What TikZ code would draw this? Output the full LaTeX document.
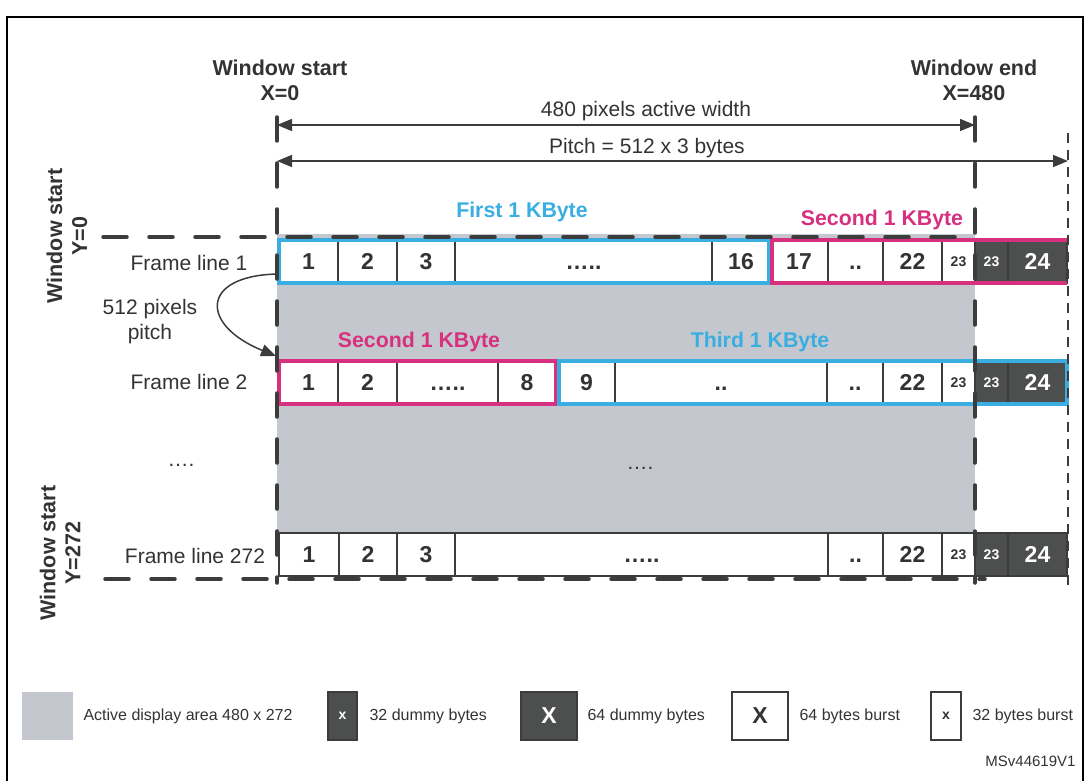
\documentclass[tikz,border=0pt]{standalone}
\usepackage{fontspec}
\setmainfont{Liberation Sans}
\usetikzlibrary{calc, positioning}
\usetikzlibrary{arrows.meta}

\definecolor{linegray}{HTML}{3C3C3C}
\definecolor{txtgray}{HTML}{333333}
\definecolor{areagray}{HTML}{C4C8CE}
\definecolor{dummygray}{HTML}{4D4F4E}
\definecolor{kbblue}{HTML}{3AAEE0}
\definecolor{kbmagenta}{HTML}{D6307F}

\tikzset{
  cell/.style={draw=linegray, line width=1.2pt, fill=white, text=txtgray, inner sep=0pt, outer sep=0pt,
    minimum height=43pt, anchor=north west, text height=16.5pt, text depth=0pt,
    font=\bfseries\fontsize{23}{23}\selectfont},
  smallcell/.style={cell, text height=10pt, font=\bfseries\fontsize{14}{14}\selectfont},
  dummy/.style={cell, fill=dummygray, text=white},
  smalldummy/.style={smallcell, fill=dummygray, text=white},
  winline/.style={linegray, line width=3.5pt, line cap=round, dash pattern=on 24pt off 22pt},
  pitchline/.style={linegray, line width=1.8pt, dash pattern=on 10pt off 7pt},
  dimarrow/.style={linegray, line width=1.5pt, {Triangle[length=15pt,width=12pt]}-{Triangle[length=15pt,width=12pt]}},
  kbox/.style={line width=3.5pt},
  lbl/.style={text=txtgray, font=\fontsize{21}{25}\selectfont, align=center},
  boldlbl/.style={lbl, font=\bfseries\fontsize{21.5}{25}\selectfont},
  kblbl/.style={font=\bfseries\fontsize{21.3}{24}\selectfont},
  legtext/.style={text=txtgray, anchor=west, font=\fontsize{16}{16}\selectfont},
  legbox/.style={draw=linegray, line width=1.2pt, inner sep=0pt, minimum height=48pt},
}

\begin{document}
\begin{tikzpicture}[x=1pt, y=-1pt]
\useasboundingbox (0,0) rectangle (1088,781);
\draw[black, line width=2pt] (7,781) -- (7,17) -- (1083,17) -- (1083,781);

\coordinate (XstartTop) at (277,117);
\coordinate (XstartBot) at (277,583);
\coordinate (XendTop) at (975,117);
\coordinate (XendBot) at (975,583);
\coordinate (PitchTop) at (1068,133);
\coordinate (PitchBot) at (1068,588);
\coordinate (YstartL) at (103,237);
\coordinate (YstartR) at (975,237);
\coordinate (YendL) at (105,579);
\coordinate (YendR) at (985,579);
\coordinate (pitchA) at (277,274);
\coordinate (pitchB) at (276,356);

\fill[areagray] (277,234) rectangle (975,533);

\foreach \xa/\xb/\t/\s [count=\i] in {279/338/1/cell, 338/397/2/cell, 397/455/3/cell, 455/712/…../cell,
    712/770/16/cell, 770/828/17/cell, 828/883/../cell, 883/942/22/cell, 942/975/23/smallcell,
    975/1008/23/smalldummy, 1008/1067/24/dummy}
  \node[\s, minimum width={(\xb-\xa)*1pt}] (ra\i) at (\xa,240) {\t};
\foreach \xa/\xb/\t/\s [count=\i] in {279/338/1/cell, 338/397/2/cell, 397/498/…../cell, 498/556/8/cell,
    558/615/9/cell, 615/827/../cell, 827/883/../cell, 883/942/22/cell, 942/975/23/smallcell,
    975/1008/23/smalldummy, 1008/1067/24/dummy}
  \node[\s, minimum width={(\xb-\xa)*1pt}] (rb\i) at (\xa,361) {\t};
\foreach \xa/\xb/\t/\s [count=\i] in {279/339/1/cell, 339/397/2/cell, 397/455/3/cell, 455/828/…../cell,
    828/883/../cell, 883/942/22/cell, 942/975/23/smallcell,
    975/1008/23/smalldummy, 1008/1067/24/dummy}
  \node[\s, minimum width={(\xb-\xa)*1pt}] (rc\i) at (\xa,533) {\t};

\draw[kbox, kbblue] (279,240) rectangle (769,283);
\draw[kbox, kbmagenta] (1067,240) -- (772,240) -- (772,283) -- (1067,283);
\draw[kbox, kbmagenta] (279,361) rectangle (556,404);
\draw[kbox, kbblue] (559,361) rectangle (1067,404);

\draw[winline] (XstartTop) -- (XstartBot);
\draw[winline] (XendTop) -- (XendBot);
\draw[winline] (YstartL) -- (YstartR);
\draw[winline] (YendL) -- (YendR);
\draw[pitchline] (PitchTop) -- (PitchBot);

\draw[dimarrow] (277,125) -- (975,125);
\draw[dimarrow] (277,161) -- (1068,161);
\draw[linegray, line width=1.5pt, -{Triangle[length=15pt,width=12pt]}]
    (pitchA) .. controls (200,276) and (200,325) .. (pitchB);

\node[lbl] (activeW) at (646,111) {480 pixels active width};
\node[lbl] (pitchW) at (647,148) {Pitch = 512 x 3 bytes};
\node[boldlbl] (winX0) at (280,80) {Window start\\X=0};
\node[boldlbl] (winX480) at (974,80) {Window end\\X=480};
\node[boldlbl, rotate=90] (winY0) at (67,236) {Window start\\Y=0};
\node[boldlbl, rotate=90] (winY272) at (60,553) {Window start\\Y=272};
\node[kblbl, text=kbblue] (kbFirst) at (522,212) {First 1 KByte};
\node[kblbl, text=kbmagenta] (kbSecondA) at (882,220) {Second 1 KByte};
\node[kblbl, text=kbmagenta] (kbSecondB) at (419,342) {Second 1 KByte};
\node[kblbl, text=kbblue] (kbThird) at (760,342) {Third 1 KByte};
\node[lbl] (line1) at (189,263) {Frame line 1};
\node[lbl] (pitchTxt) at (150,322) {512 pixels\\pitch};
\node[lbl] (line2) at (189,382) {Frame line 2};
\node[lbl] (dotsL) at (181,465) {….};
\node[lbl] (dotsM) at (640,468) {….};
\node[lbl] (line272) at (195,556) {Frame line 272};

\node[legbox, draw=none, fill=areagray, minimum width=51pt] (lgArea) at (47.5,716) {};
\node[legtext] (lgAreaT) at (80,716) {Active display area 480 x 272};
\node[legbox, fill=dummygray, minimum width=29pt, text=white, font=\bfseries\fontsize{14}{14}\selectfont] (lgDx) at (342.5,716) {x};
\node[legtext] (lgDxT) at (366,716) {32 dummy bytes};
\node[legbox, fill=dummygray, minimum width=56pt, text=white, font=\bfseries\fontsize{23}{23}\selectfont] (lgDX) at (549,716) {X};
\node[legtext] (lgDXT) at (584,716) {64 dummy bytes};
\node[legbox, fill=white, minimum width=56pt, text=txtgray, font=\bfseries\fontsize{23}{23}\selectfont] (lgBX) at (760,716) {X};
\node[legtext] (lgBXT) at (796,716) {64 bytes burst};
\node[legbox, fill=white, minimum width=30pt, text=txtgray, font=\bfseries\fontsize{14}{14}\selectfont] (lgBx) at (946,716) {x};
\node[legtext] (lgBxT) at (969,716) {32 bytes burst};
\node[legtext, anchor=east, font=\fontsize{15}{15}\selectfont] (msv) at (1079,761) {MSv44619V1};
\end{tikzpicture}
\end{document}
